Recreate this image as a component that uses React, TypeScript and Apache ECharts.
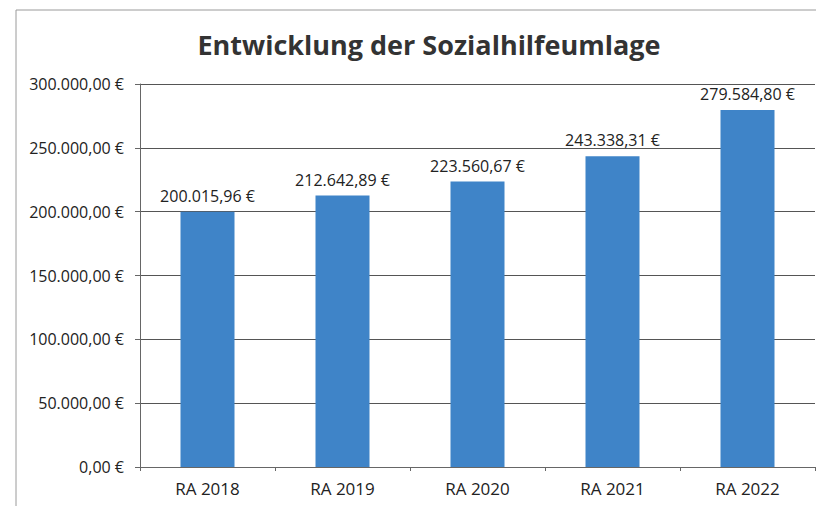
import React, { useEffect, useRef } from "react";
import * as echarts from "echarts";

const categories = ["RA 2018", "RA 2019", "RA 2020", "RA 2021", "RA 2022"];
const values = [200015.96, 212642.89, 223560.67, 243338.31, 279584.8];
const yTicks = { min: 0, max: 300000, interval: 50000 };
const titleText = "Entwicklung der Sozialhilfeumlage";

function fmtEuro(v: number): string {
  const neg = v < 0;
  const fixed = Math.abs(v).toFixed(2);
  const [intPart, dec] = fixed.split(".");
  const withDots = intPart.replace(/\B(?=(\d{3})+(?!\d))/g, ".");
  return (neg ? "-" : "") + withDots + "," + dec + " €";
}

const FONT = "'Open Sans', sans-serif";

export default function App() {
  const ref = useRef<HTMLDivElement>(null);
  useEffect(() => {
    if (!ref.current) return;
    const chart = echarts.init(ref.current, undefined, { renderer: "svg" });
    chart.setOption({
      animation: false,
      backgroundColor: "#ffffff",
      title: {
        text: titleText,
        left: 424,
        top: 26,
        textAlign: "center",
        textStyle: { fontFamily: FONT, fontSize: 27, fontWeight: "bold", color: "#333" },
      },
      graphic: [
        {
          type: "rect",
          shape: { x: 16, y: 10, width: 900, height: 600 },
          style: { fill: "none", stroke: "#9a9a9a", lineWidth: 1 },
          silent: true,
        },
      ],
      grid: { left: 140, right: 1, top: 84, bottom: 39, containLabel: false },
      xAxis: {
        type: "category",
        data: categories,
        axisLine: { lineStyle: { color: "#666", width: 1 } },
        axisTick: { show: true, length: 4, lineStyle: { color: "#666" } },
        axisLabel: { fontFamily: FONT, fontSize: 17, color: "#222", margin: 13 },
      },
      yAxis: {
        type: "value",
        min: yTicks.min,
        max: yTicks.max,
        interval: yTicks.interval,
        axisLine: { show: true, lineStyle: { color: "#666", width: 1 } },
        axisTick: { show: true, length: 5, lineStyle: { color: "#666" } },
        splitLine: { lineStyle: { color: "#555", width: 1 } },
        axisLabel: {
          fontFamily: FONT,
          fontSize: 16,
          color: "#222",
          margin: 16,
          formatter: (v: number) => fmtEuro(v),
        },
      },
      series: [
        {
          type: "bar",
          data: values,
          barWidth: 54,
          itemStyle: { color: "#3f84c8" },
          label: {
            show: true,
            position: "top",
            distance: 8,
            fontFamily: FONT,
            fontSize: 16,
            color: "#222",
            formatter: (p: any) => fmtEuro(p.value),
          },
        },
      ],
    });
    return () => chart.dispose();
  }, []);
  return (
    <div
      ref={ref}
      style={{ position: "fixed", left: 0, top: 0, width: 816, height: 506, background: "#fff" }}
    />
  );
}
